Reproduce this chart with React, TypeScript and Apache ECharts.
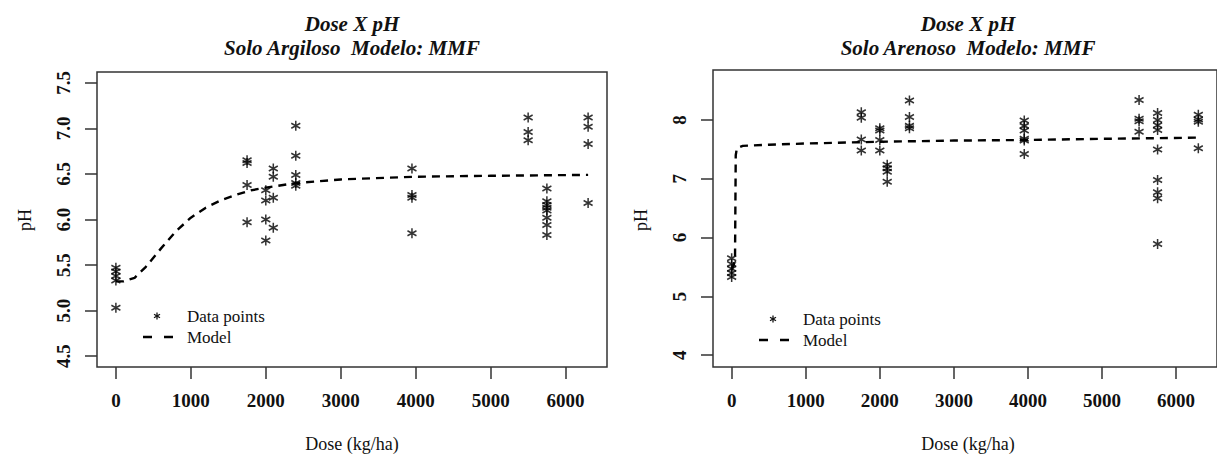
import React, { useEffect, useRef } from "react";
import * as echarts from "echarts";

// ---- Data ----
const xTicks = [0, 1000, 2000, 3000, 4000, 5000, 6000];
const yTicksArgiloso = [4.5, 5.0, 5.5, 6.0, 6.5, 7.0, 7.5];
const yTicksArenoso = [4, 5, 6, 7, 8];

// Solo Argiloso – observed points
const argilosoDose = [
  0, 0, 0, 0, 0,
  1750, 1750, 1750, 1750,
  2000, 2000, 2000, 2000,
  2100, 2100, 2100, 2100,
  2400, 2400, 2400, 2400, 2400,
  3950, 3950, 3950, 3950,
  5500, 5500, 5500,
  5750, 5750, 5750, 5750, 5750, 5750, 5750, 5750,
  6300, 6300, 6300, 6300,
];
const argilosoPH = [
  5.47, 5.43, 5.38, 5.33, 5.03,
  6.65, 6.62, 6.38, 5.97,
  6.32, 6.21, 6.0, 5.77,
  6.56, 6.47, 6.24, 5.91,
  7.03, 6.7, 6.49, 6.4, 6.37,
  6.56, 6.27, 6.24, 5.85,
  7.12, 6.96, 6.87,
  6.34, 6.2, 6.16, 6.13, 6.1, 6.02, 5.94, 5.83,
  7.12, 7.02, 6.83, 6.18,
];
// Solo Argiloso – fitted model curve
const argilosoModelDose = [0, 100, 250, 400, 600, 800, 1000, 1200, 1400, 1600, 1800, 2000, 2400, 3000, 4000, 5000, 6300];
const argilosoModelPH = [5.32, 5.32, 5.36, 5.48, 5.68, 5.87, 6.02, 6.13, 6.21, 6.27, 6.32, 6.35, 6.4, 6.44, 6.47, 6.48, 6.49];

// Solo Arenoso – observed points
const arenosoDose = [
  0, 0, 0, 0, 0,
  1750, 1750, 1750, 1750,
  2000, 2000, 2000, 2000,
  2100, 2100, 2100, 2100,
  2400, 2400, 2400, 2400,
  3950, 3950, 3950, 3950, 3950, 3950,
  5500, 5500, 5500, 5500,
  5750, 5750, 5750, 5750, 5750, 5750, 5750, 5750, 5750,
  6300, 6300, 6300, 6300,
];
const arenosoPH = [
  5.65, 5.55, 5.47, 5.4, 5.33,
  8.13, 8.04, 7.67, 7.48,
  7.86, 7.82, 7.66, 7.48,
  7.24, 7.18, 7.12, 6.95,
  8.33, 8.05, 7.9, 7.86,
  7.99, 7.9, 7.82, 7.68, 7.65, 7.42,
  8.34, 8.02, 7.98, 7.8,
  8.12, 8.0, 7.91, 7.83, 7.5, 6.98, 6.77, 6.67, 5.89,
  8.09, 8.01, 7.97, 7.52,
];
// Solo Arenoso – fitted model curve
const arenosoModelDose = [0, 45, 50, 55, 70, 150, 500, 1000, 2000, 3000, 4000, 5000, 6300];
const arenosoModelPH = [5.45, 5.6, 6.5, 7.4, 7.52, 7.56, 7.58, 7.6, 7.63, 7.65, 7.66, 7.68, 7.7];

const titleLine1 = "Dose X pH";
const titleArgiloso = "Solo Argiloso  Modelo: MMF";
const titleArenoso = "Solo Arenoso  Modelo: MMF";
const xName = "Dose (kg/ha)";
const yName = "pH";
const legendPoints = "Data points";
const legendModel = "Model";

// ---- Styling ----
const SERIF = "'Liberation Serif', 'Times New Roman', serif";
const INK = "#111";
const FRAME = "#333";
const ASTERISK = "path://M5,0L5,10M0.67,2.5L9.33,7.5M0.67,7.5L9.33,2.5";

const zip = (a: number[], b: number[]) => a.map((v, i) => [v, b[i]]);

function xAxisFor(gridIndex: number) {
  return {
    gridIndex,
    type: "value",
    min: -252,
    max: 6552,
    splitLine: { show: false },
    axisLine: { show: false, onZero: false },
    axisTick: { show: true, length: 12, customValues: xTicks, lineStyle: { color: FRAME, width: 1.5 } },
    axisLabel: {
      customValues: xTicks,
      formatter: (v: number) => String(v),
      fontFamily: SERIF,
      fontWeight: "bold",
      fontSize: 19,
      color: INK,
      margin: 24,
    },
  };
}

function yAxisFor(gridIndex: number, min: number, max: number, ticks: number[], digits: number) {
  return {
    gridIndex,
    type: "value",
    min,
    max,
    splitLine: { show: false },
    axisLine: { show: false, onZero: false },
    axisTick: { show: true, length: 12, customValues: ticks, lineStyle: { color: FRAME, width: 1.5 } },
    axisLabel: {
      customValues: ticks,
      rotate: 90,
      formatter: (v: number) => v.toFixed(digits),
      fontFamily: SERIF,
      fontWeight: "bold",
      fontSize: 19,
      color: INK,
      margin: 24,
    },
  };
}

function scatterSeries(idx: number, dose: number[], ph: number[]) {
  return {
    type: "scatter",
    xAxisIndex: idx,
    yAxisIndex: idx,
    symbol: ASTERISK,
    symbolSize: [9, 10],
    itemStyle: { color: "transparent", borderColor: "#000", borderWidth: 1.6 },
    data: zip(dose, ph),
    z: 3,
  };
}

function modelSeries(idx: number, dose: number[], ph: number[]) {
  return {
    type: "line",
    xAxisIndex: idx,
    yAxisIndex: idx,
    symbol: "none",
    smooth: false,
    lineStyle: { color: "#000", width: 2.4, type: [8, 6] },
    data: zip(dose, ph),
    z: 2,
  };
}

function legendGraphics(x0: number, y0: number) {
  const star = {
    type: "group",
    x: x0 + 14,
    y: y0,
    children: [
      { type: "line", shape: { x1: 0, y1: -3.5, x2: 0, y2: 3.5 }, style: { stroke: INK, lineWidth: 1.3 } },
      { type: "line", shape: { x1: -3, y1: -1.75, x2: 3, y2: 1.75 }, style: { stroke: INK, lineWidth: 1.3 } },
      { type: "line", shape: { x1: -3, y1: 1.75, x2: 3, y2: -1.75 }, style: { stroke: INK, lineWidth: 1.3 } },
    ],
  };
  return [
    star,
    {
      type: "line",
      shape: { x1: x0, y1: y0 + 21, x2: x0 + 30, y2: y0 + 21 },
      style: { stroke: "#000", lineWidth: 2.4, lineDash: [9, 12] },
    },
    {
      type: "text",
      x: x0 + 44,
      y: y0,
      style: { text: legendPoints, font: `17px ${SERIF}`, fill: INK, textVerticalAlign: "middle" },
    },
    {
      type: "text",
      x: x0 + 44,
      y: y0 + 21,
      style: { text: legendModel, font: `17px ${SERIF}`, fill: INK, textVerticalAlign: "middle" },
    },
  ];
}

function textsFor(cx: number, yLabelX: number, subtitle: string) {
  const titleFont = `italic bold 21px ${SERIF}`;
  return [
    { type: "text", x: cx, y: 24, style: { text: titleLine1, font: titleFont, fill: INK, textAlign: "center", textVerticalAlign: "middle" } },
    { type: "text", x: cx, y: 48, style: { text: subtitle, font: titleFont, fill: INK, textAlign: "center", textVerticalAlign: "middle" } },
    { type: "text", x: cx, y: 444, style: { text: xName, font: `18px ${SERIF}`, fill: INK, textAlign: "center", textVerticalAlign: "middle" } },
    {
      type: "text",
      x: yLabelX,
      y: 220,
      rotation: Math.PI / 2,
      style: { text: yName, font: `18px ${SERIF}`, fill: INK, textAlign: "center", textVerticalAlign: "middle" },
    },
  ];
}

export default function App() {
  const ref = useRef<HTMLDivElement>(null);
  useEffect(() => {
    if (!ref.current) return;
    const chart = echarts.init(ref.current, null, { renderer: "svg" });
    chart.setOption({
      animation: false,
      backgroundColor: "#fff",
      grid: [
        { left: 97, top: 72, width: 510, height: 295, show: true, borderColor: FRAME, borderWidth: 1.5, backgroundColor: "transparent" },
        { left: 713, top: 70, width: 510, height: 297, show: true, borderColor: FRAME, borderWidth: 1.5, backgroundColor: "transparent" },
      ],
      xAxis: [xAxisFor(0), xAxisFor(1)],
      yAxis: [yAxisFor(0, 4.38, 7.62, yTicksArgiloso, 1), yAxisFor(1, 3.8, 8.85, yTicksArenoso, 0)],
      series: [
        scatterSeries(0, argilosoDose, argilosoPH),
        modelSeries(0, argilosoModelDose, argilosoModelPH),
        scatterSeries(1, arenosoDose, arenosoPH),
        modelSeries(1, arenosoModelDose, arenosoModelPH),
      ],
      graphic: [
        ...textsFor(352, 25, titleArgiloso),
        ...textsFor(968, 641, titleArenoso),
        ...legendGraphics(143, 316),
        ...legendGraphics(759, 319),
      ],
    });
    return () => chart.dispose();
  }, []);
  return <div ref={ref} style={{ position: "fixed", left: 0, top: 0, width: 1217, height: 455 }} />;
}
